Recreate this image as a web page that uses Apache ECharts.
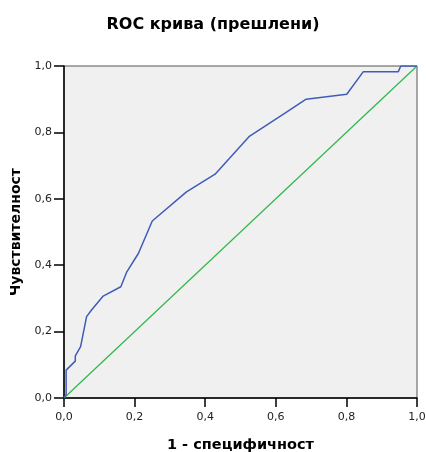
<!DOCTYPE html>
<html>
<head>
<meta charset="utf-8">
<script src="https://cdn.jsdelivr.net/npm/echarts@6/dist/echarts.min.js"></script>
<style>html,body{margin:0;padding:0;background:#fff;}#c{width:426px;height:452px;}</style>
</head>
<body>
<div id="c"></div>
<script>
const fpr = [0, 0.006, 0.006, 0.032, 0.032, 0.047, 0.064, 0.078, 0.111, 0.161, 0.178, 0.211, 0.250, 0.347, 0.428, 0.524, 0.626, 0.686, 0.801, 0.848, 0.947, 0.954, 1.0];
const tpr = [0, 0.010, 0.084, 0.111, 0.127, 0.155, 0.245, 0.265, 0.307, 0.335, 0.380, 0.436, 0.533, 0.621, 0.674, 0.787, 0.858, 0.900, 0.915, 0.983, 0.983, 1.0, 1.0];
const refX = [0, 1];
const refY = [0, 1];
const tickLabels = ['0,0', '0,2', '0,4', '0,6', '0,8', '1,0'];

const font = '"DejaVu Sans", sans-serif';
const fmt = v => tickLabels[Math.round(v * 5)];
const chart = echarts.init(document.getElementById('c'));
chart.setOption({
  animation: false,
  title: {
    text: 'ROC крива (прешлени)',
    left: 'center', top: 12,
    textStyle: { fontFamily: font, fontSize: 16, fontWeight: 'bold', color: '#000' }
  },
  grid: {
    left: 64, top: 66, right: 9, bottom: 54,
    outerBoundsMode: 'none', containLabel: false,
    show: true, backgroundColor: '#f0f0f0', borderColor: '#555', borderWidth: 1
  },
  xAxis: {
    type: 'value', min: 0, max: 1, interval: 0.2,
    name: '1 - специфичност', nameLocation: 'middle', nameGap: 40,
    nameTextStyle: { fontFamily: font, fontSize: 14.5, fontWeight: 'bold', color: '#000' },
    axisLine: { show: true, onZero: false, lineStyle: { color: '#000', width: 1.5 } },
    axisTick: { show: true, length: 9, lineStyle: { color: '#000', width: 1.5 } },
    axisLabel: { margin: 14, formatter: fmt, fontFamily: font, fontSize: 11, color: '#222' },
    splitLine: { show: false }
  },
  yAxis: {
    type: 'value', min: 0, max: 1, interval: 0.2,
    name: 'Чувствителност', nameLocation: 'middle', nameGap: 41,
    nameTextStyle: { fontFamily: font, fontSize: 14, fontWeight: 'bold', color: '#000' },
    axisLine: { show: true, onZero: false, lineStyle: { color: '#000', width: 1.5 } },
    axisTick: { show: true, length: 10, lineStyle: { color: '#000', width: 1.5 } },
    axisLabel: { margin: 12, formatter: fmt, fontFamily: font, fontSize: 11, color: '#222' },
    splitLine: { show: false }
  },
  series: [
    {
      type: 'line', data: refX.map((x, i) => [x, refY[i]]),
      showSymbol: false, lineStyle: { color: '#2db84a', width: 1.2 }, z: 2
    },
    {
      type: 'line', data: fpr.map((x, i) => [x, tpr[i]]),
      showSymbol: false, lineStyle: { color: '#3f5cb8', width: 1.5 }, z: 3
    }
  ]
});
</script>
</body>
</html>
